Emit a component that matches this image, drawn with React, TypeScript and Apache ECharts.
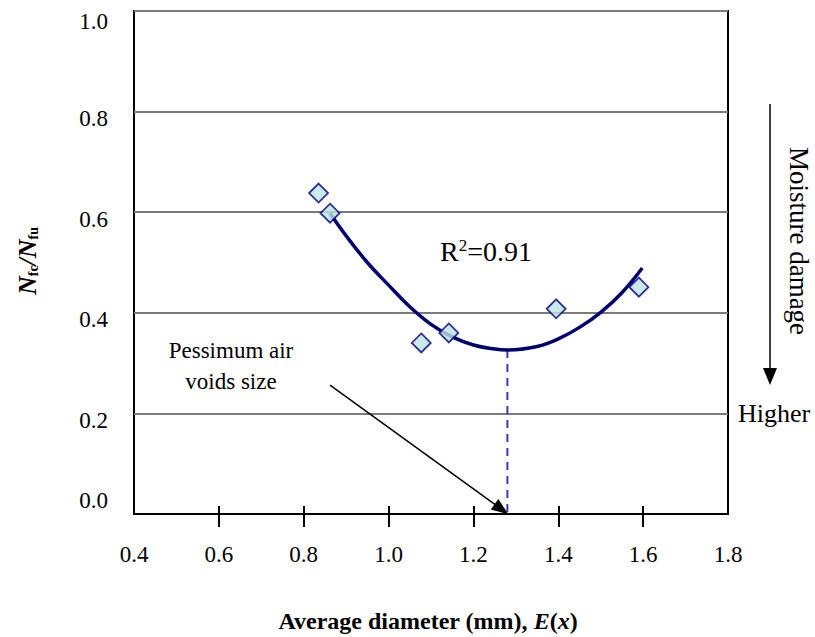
import React, { useEffect, useRef } from "react";
import * as echarts from "echarts";

// Measured points (average diameter, Nfc/Nfu)
const pointX = [0.835, 0.862, 1.077, 1.142, 1.395, 1.590];
const pointY = [0.638, 0.598, 0.340, 0.360, 0.408, 0.451];

// Trend curve
const curveX = [0.862, 0.9, 0.95, 1.0, 1.05, 1.1, 1.15, 1.2, 1.25, 1.28, 1.35, 1.4, 1.45, 1.5, 1.55, 1.598];
const curveY = [0.598, 0.553, 0.5, 0.455, 0.412, 0.377, 0.352, 0.336, 0.328, 0.326, 0.333, 0.348, 0.371, 0.401, 0.44, 0.489];

// Pessimum size marker
const pessimumX = 1.28;
const pessimumY = 0.326;
const arrowStart = [0.862, 0.256];
const arrowEnd = [1.266, 0.0095];

const xTicks = [0.6, 0.8, 1.0, 1.2, 1.4, 1.6];
const xLabels = [0.4, 0.6, 0.8, 1.0, 1.2, 1.4, 1.6, 1.8];

const FONT = "Liberation Serif";

export default function App() {
  const ref = useRef<HTMLDivElement>(null);

  useEffect(() => {
    if (!ref.current) return;
    const chart = echarts.init(ref.current, null, { renderer: "svg" });
    const xBase = {
      type: "value",
      min: 0.4,
      max: 1.8,
      interval: 0.2,
      position: "bottom",
      splitLine: { show: false },
    };
    const yl = { fontFamily: FONT, fontSize: 23, color: "#000" };
    chart.setOption({
      animation: false,
      backgroundColor: "#ffffff",
      grid: {
        left: 134,
        top: 11,
        right: 87,
        bottom: 123,
        show: true,
        borderColor: "#000000",
        borderWidth: 2,
        backgroundColor: "transparent",
      },
      xAxis: [
        {
          ...xBase,
          axisLine: { show: true, lineStyle: { color: "#000", width: 2 } },
          axisTick: {
            show: true,
            inside: false,
            length: 13,
            customValues: xTicks,
            lineStyle: { color: "#000", width: 2 },
          },
          axisLabel: {
            show: true,
            margin: 29,
            customValues: xLabels,
            formatter: (v: number) => v.toFixed(1),
            fontFamily: FONT,
            fontSize: 23,
            color: "#000",
          },
        },
        {
          ...xBase,
          axisLine: { show: false },
          axisTick: {
            show: true,
            inside: true,
            length: 8,
            customValues: xTicks,
            lineStyle: { color: "#000", width: 2 },
          },
          axisLabel: { show: false },
        },
      ],
      yAxis: {
        type: "value",
        min: 0,
        max: 1,
        interval: 0.2,
        axisLine: { show: false },
        axisTick: { show: false },
        splitLine: { show: true, lineStyle: { color: "#7a7a7a", width: 2 } },
        axisLabel: {
          margin: 26,
          formatter: (v: number) => {
            const t = v.toFixed(1);
            if (v === 0) return "{z|" + t + "}";
            if (v === 1) return "{o|" + t + "}";
            return "{m|" + t + "}";
          },
          rich: {
            z: { ...yl, padding: [0, 0, 28, 0] },
            o: { ...yl, padding: [20, 0, 0, 0] },
            m: { ...yl, padding: [14, 0, 0, 0] },
          },
          ...yl,
        },
      },
      series: [
        {
          type: "line",
          data: curveX.map((x, i) => [x, curveY[i]]),
          smooth: 0.4,
          showSymbol: false,
          symbol: "none",
          lineStyle: { color: "#000070", width: 3.5 },
          z: 3,
        },
        {
          type: "line",
          data: [
            [pessimumX, pessimumY],
            [pessimumX, 0],
          ],
          showSymbol: false,
          symbol: "none",
          lineStyle: { color: "#3a3ab0", width: 2, type: [8, 6] },
          z: 2,
          markLine: {
            silent: true,
            symbol: ["none", "triangle"],
            symbolSize: [13, 17],
            label: { show: false },
            lineStyle: { color: "#000", width: 1.5, type: "solid" },
            data: [[{ coord: arrowStart }, { coord: arrowEnd }]],
          },
        },
        {
          type: "scatter",
          data: pointX.map((x, i) => [x, pointY[i]]),
          symbol: "diamond",
          symbolSize: 19,
          itemStyle: { color: "#bfe3e3", borderColor: "#000080", borderWidth: 1.8 },
          z: 5,
        },
      ],
      graphic: [
        {
          type: "text",
          x: 428,
          y: 621,
          style: {
            text: "{b|Average diameter (mm), }{bi|E}{b|(}{bi|x}{b|)}",
            align: "center",
            verticalAlign: "middle",
            rich: {
              b: { fontFamily: FONT, fontSize: 24, fontWeight: "bold", fill: "#000" },
              bi: { fontFamily: FONT, fontSize: 24, fontWeight: "bold", fontStyle: "italic", fill: "#000" },
            },
          },
        },
        {
          type: "text",
          x: 27,
          y: 261,
          rotation: Math.PI / 2,
          style: {
            text: "{n|N}{s|fc}{n|/N}{s|fu}",
            align: "center",
            verticalAlign: "middle",
            rich: {
              n: { fontFamily: FONT, fontSize: 26, fontWeight: "bold", fontStyle: "italic", fill: "#000" },
              s: { fontFamily: FONT, fontSize: 14, fontWeight: "bold", fill: "#000", verticalAlign: "bottom", padding: [10, 0, 0, 0] },
            },
          },
        },
        {
          type: "text",
          x: 486,
          y: 251,
          style: {
            text: "{t|R}{p|2}{t|=0.91}",
            align: "center",
            verticalAlign: "middle",
            rich: {
              t: { fontFamily: FONT, fontSize: 28, fill: "#000" },
              p: { fontFamily: FONT, fontSize: 17, fill: "#000", verticalAlign: "top", padding: [0, 0, 12, 0] },
            },
          },
        },
        {
          type: "text",
          x: 231,
          y: 366,
          style: {
            text: "Pessimum air\nvoids size",
            align: "center",
            verticalAlign: "middle",
            fontFamily: FONT,
            fontSize: 23,
            lineHeight: 31,
            fill: "#000",
          },
        },
        {
          type: "text",
          x: 799,
          y: 241,
          rotation: -Math.PI / 2,
          style: {
            text: "Moisture damage",
            align: "center",
            verticalAlign: "middle",
            fontFamily: FONT,
            fontSize: 27,
            fill: "#000",
          },
        },
        {
          type: "line",
          shape: { x1: 770, y1: 104, x2: 770, y2: 370 },
          style: { stroke: "#000", lineWidth: 1.5 },
        },
        {
          type: "polygon",
          shape: { points: [[763, 368], [777, 368], [770, 385]] },
          style: { fill: "#000" },
        },
        {
          type: "text",
          x: 774,
          y: 413,
          style: {
            text: "Higher",
            align: "center",
            verticalAlign: "middle",
            fontFamily: FONT,
            fontSize: 26,
            fill: "#000",
          },
        },
      ],
    });
    return () => chart.dispose();
  }, []);

  return (
    <div
      ref={ref}
      style={{ position: "fixed", left: 0, top: 0, width: 815, height: 637, background: "#fff" }}
    />
  );
}
